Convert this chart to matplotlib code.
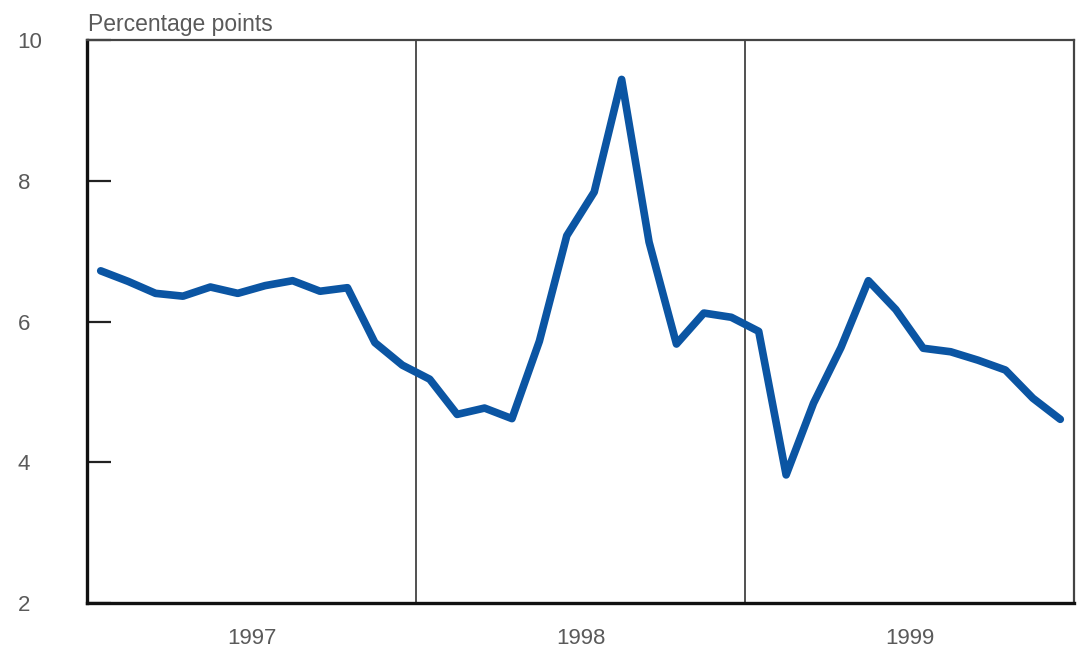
import numpy as np
import matplotlib.pyplot as plt

# monthly values, Jan 1997 - Dec 1999
values_1997 = [6.72, 6.57, 6.40, 6.36, 6.49, 6.40, 6.51, 6.58, 6.43, 6.48, 5.70, 5.38]
values_1998 = [5.18, 4.68, 4.77, 4.62, 5.72, 7.22, 7.84, 9.44, 7.13, 5.68, 6.12, 6.06]
values_1999 = [5.86, 3.82, 4.84, 5.63, 6.58, 6.17, 5.62, 5.57, 5.45, 5.31, 4.91, 4.61]
years = ["1997", "1998", "1999"]
yticks = [2, 4, 6, 8, 10]

vals = values_1997 + values_1998 + values_1999
x = np.arange(len(vals)) + 0.5

plt.rcParams['font.family'] = ['Liberation Sans', 'DejaVu Sans']
txt_color = '#5a5a5a'

fig = plt.figure(figsize=(10.77, 6.5), dpi=100)
ax = fig.add_axes([87/1077, 47/650, 987/1077, 563/650])

ax.plot(x, vals, color='#0b55a3', lw=5.5, solid_joinstyle='round',
        solid_capstyle='round', zorder=3)

# year separators
for k in range(1, len(years)):
    ax.axvline(12*k, color='#222222', lw=1.1, zorder=2)

ax.set_xlim(0, 36)
ax.set_ylim(2, 10)

ax.set_yticks(yticks)
ax.set_yticklabels([str(t) for t in yticks])
ax.tick_params(axis='y', direction='in', length=17, width=1.6, color='#222222',
               pad=50, labelsize=16, labelcolor=txt_color)
for lab in ax.get_yticklabels():
    lab.set_horizontalalignment('left')

ax.set_xticks([6, 18, 30])
ax.set_xticklabels(years)
ax.tick_params(axis='x', length=0, pad=18, labelsize=16, labelcolor=txt_color)

for s in ['left', 'bottom']:
    ax.spines[s].set_linewidth(2.4)
    ax.spines[s].set_color('#111111')
for s in ['top', 'right']:
    ax.spines[s].set_linewidth(1.6)
    ax.spines[s].set_color('#444444')

fig.text(88/1077, 1 - 31/650, "Percentage points", fontsize=16.5, color=txt_color,
         ha='left', va='baseline')

fig.savefig('out.png', dpi=100)
